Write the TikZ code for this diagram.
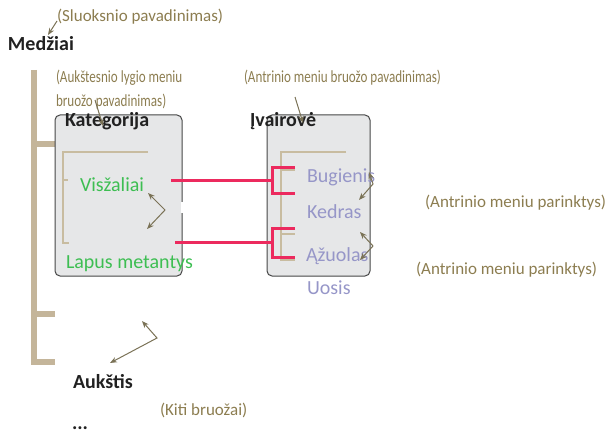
\documentclass[tikz,border=0pt]{standalone}
\usepackage{fontspec}
\setmainfont{Carlito}
\newfontfamily\condfont[FakeStretch=0.77]{Carlito}
\usetikzlibrary{arrows.meta}
\definecolor{annot}{RGB}{140,125,80}
\definecolor{arrowc}{RGB}{122,114,86}
\definecolor{tanbar}{RGB}{196,181,154}
\definecolor{tanline}{RGB}{200,188,160}
\definecolor{boxfill}{RGB}{230,231,232}
\definecolor{boxdraw}{RGB}{70,70,70}
\definecolor{pinkc}{RGB}{236,42,94}
\definecolor{greenc}{RGB}{61,190,82}
\definecolor{lav}{RGB}{150,150,200}
\tikzset{
 lbl/.style={anchor=base west, inner sep=0pt, outer sep=0pt},
 annot/.style={lbl, text=annot, font=\fontsize{17}{20}\selectfont},
 cond/.style={lbl, text=annot, font=\condfont\fontsize{17}{20}\selectfont},
 head/.style={lbl, text=black!87, font=\bfseries\fontsize{20}{24}\selectfont},
 grn/.style={lbl, text=greenc, font=\fontsize{20}{24}\selectfont},
 lavt/.style={lbl, text=lav, font=\fontsize{20}{24}\selectfont},
 menubox/.style={draw=boxdraw, fill=boxfill, line width=1pt, rounded corners=5pt, inner sep=0pt},
 bar/.style={draw=tanbar, line width=6pt},
 tanl/.style={draw=tanline, line width=2pt},
 link/.style={draw=pinkc, line width=3pt},
 tip/.tip={Stealth[length=7pt,width=5.5pt]},
 callout/.style={draw=arrowc, line width=1pt, -tip},
 dcallout/.style={draw=arrowc, line width=1pt, tip-tip},
}
\begin{document}
\begin{tikzpicture}[x=1pt,y=-1pt]
\useasboundingbox (0,0) rectangle (615,433);
% layer bar
\draw[bar] (55,144) -- (34,144);
\draw[bar] (55,314) -- (34,314);
\draw[bar] (34,70) -- (34,362) -- (55,362);
% boxes
\node[menubox, minimum width=127pt, minimum height=161pt] (box1) at (118.5,195.5) {};
\node[menubox, minimum width=103pt, minimum height=161pt] (box2) at (318.5,195.5) {};
\draw[white, line width=1.5pt] (182,202) -- (182,213);
% inner brackets
\draw[tanl] (148,152) -- (63,152) -- (63,243) -- (69,243);
\draw[tanl] (63,180) -- (68,180);
\draw[tanl] (346,152) -- (281,152) -- (281,260) -- (295,260);
\draw[tanl] (281,170) -- (295,170);
\draw[tanl] (281,234) -- (295,234);
% pink links
\coordinate (l1s) at (171,180);
\coordinate (l1e) at (272,180);
\coordinate (l2s) at (175,242);
\coordinate (l2e) at (272,242);
\draw[link] (l1s) -- (l1e);
\draw[link] (295,167) -- (272,167) -- (272,193) -- (295,193);
\draw[link] (l2s) -- (l2e);
\draw[link] (295,228) -- (272,228) -- (272,257) -- (295,257);
% texts
\node[head] (medziai) at (8,51) {Medžiai};
\node[annot] (sluok) at (57,22) {(Sluoksnio pavadinimas)};
\node[cond] (aukst1) at (56,83) {(Aukštesnio lygio meniu};
\node[cond] (aukst2) at (56,106.5) {bruožo pavadinimas)};
\node[cond] (antrbr) at (244,83) {(Antrinio meniu bruožo pavadinimas)};
\node[head] (kat) at (65,127) {Kategorija};
\node[head] (ivair) at (250,127) {Įvairovė};
\node[grn] (visz) at (80,191) {Visžaliai};
\node[grn] (lapus) at (66,268) {Lapus metantys};
\node[lavt] (bug) at (307,182) {Bugienis};
\node[lavt] (ked) at (307,218) {Kedras};
\node[lavt] (azu) at (306,261) {Ąžuolas};
\node[lavt] (uos) at (307,294) {Uosis};
\node[annot] (par1) at (425,207) {(Antrinio meniu parinktys)};
\node[annot] (par2) at (416,274) {(Antrinio meniu parinktys)};
\node[head] (aukstis) at (73,388) {Aukštis};
\node[annot] (kiti) at (160,415) {(Kiti bruožai)};
\node[head] (dots) at (72,429) {...};
% callouts
\coordinate (c1a) at (57,21); \coordinate (c1b) at (48,35);
\draw[callout] (c1a) -- (c1b);
\coordinate (c2a) at (95,100); \coordinate (c2b) at (103,126);
\draw[callout] (c2a) -- (c2b);
\coordinate (c3a) at (295,97); \coordinate (c3b) at (303,123);
\draw[callout] (c3a) -- (c3b);
\draw[dcallout] (148,193) -- (165,210) -- (147,229);
\draw[dcallout] (369,172) -- (373,184) -- (359,200);
\draw[dcallout] (360,232) -- (373,246) -- (360,260);
\draw[dcallout] (142,321) -- (157,338) -- (110,363);
\end{tikzpicture}
\end{document}
